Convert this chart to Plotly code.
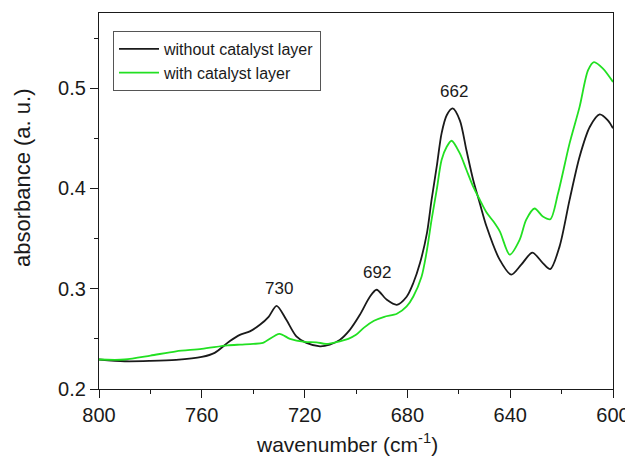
import plotly.graph_objects as go

# black: without catalyst layer
wn_black = [800, 790, 780, 770, 760, 755, 749.2, 745.2, 741.3, 737.4, 734, 730.9, 727.1, 723.2, 719.3,
            714, 710.2, 706.3, 702.4, 698.5, 694.6, 692, 688, 684.1, 680.3, 677.7, 675.1, 672.4, 670.6,
            668.6, 666.7, 664.7, 662.4, 659.6, 657, 654.4, 651.8, 649.2, 644.1, 639.6, 635.7, 631.4,
            627.3, 624.4, 620.8, 616.9, 613, 609, 605.2, 602, 600]
ab_black = [0.2294, 0.2277, 0.228, 0.229, 0.232, 0.236, 0.2476, 0.254, 0.2575, 0.264, 0.272, 0.283,
            0.269, 0.2525, 0.246, 0.2426, 0.2443, 0.249, 0.259, 0.274, 0.292, 0.299, 0.289, 0.284,
            0.292, 0.3057, 0.3256, 0.3554, 0.3886, 0.4217, 0.455, 0.473, 0.4798, 0.468, 0.4378,
            0.4085, 0.385, 0.362, 0.329, 0.314, 0.324, 0.336, 0.3256, 0.3196, 0.342, 0.3886, 0.4317,
            0.4615, 0.4738, 0.468, 0.46]

# green: with catalyst layer
wn_green = [800, 790, 780, 770, 760, 750, 745, 740, 736.2, 729.8, 725.7, 720, 715.4, 711.6, 706.3, 703,
            700, 697, 693, 689, 684.1, 680.3, 677.7, 674.5, 672.6, 670.6, 668.6, 666.7, 664.7, 662.8,
            659.6, 657, 654.4, 651.8, 649.2, 646.5, 644, 640.2, 636.3, 633.8, 630.5, 627.3, 624.4,
            621.4, 616.9, 613, 609.7, 607.4, 603.9, 600]
ab_green = [0.2294, 0.2294, 0.2333, 0.2376, 0.240, 0.2435, 0.2443, 0.245, 0.246, 0.255, 0.250, 0.247,
            0.2466, 0.245, 0.2476, 0.250, 0.254, 0.261, 0.268, 0.272, 0.275, 0.2824, 0.2923, 0.312,
            0.3355, 0.3687, 0.3985, 0.4284, 0.4416, 0.4476, 0.435, 0.4184, 0.4018, 0.3886, 0.376,
            0.367, 0.357, 0.334, 0.349, 0.3687, 0.380, 0.372, 0.3693, 0.395, 0.445, 0.4814, 0.518,
            0.526, 0.5196, 0.5063]

peak_x = [730, 692, 662]
peak_y = [0.283, 0.299, 0.480]
peak_labels = ["730", "692", "662"]

x_title = "wavenumber (cm<sup>-1</sup>)"
y_title = "absorbance (a. u.)"

font = "Liberation Sans, Arial, sans-serif"
ink = "#1a1a1a"

fig = go.Figure()
fig.add_trace(go.Scatter(x=wn_black, y=ab_black, mode="lines", name="without catalyst layer",
                         line=dict(color=ink, width=1.8, shape="spline", smoothing=0.8)))
fig.add_trace(go.Scatter(x=wn_green, y=ab_green, mode="lines", name="with catalyst layer",
                         line=dict(color="#22e022", width=1.8, shape="spline", smoothing=0.8)))

for px, py, lab in zip(peak_x, peak_y, peak_labels):
    fig.add_annotation(x=px, y=py, text=lab, showarrow=False, yshift=17,
                       font=dict(size=17, color=ink, family=font))

# axis titles as annotations for exact placement
fig.add_annotation(x=-77 / 514, xref="paper", y=0.561, yref="paper", text=y_title, textangle=-90,
                   showarrow=False, font=dict(size=22, family=font, color=ink),
                   xanchor="center", yanchor="middle")
fig.add_annotation(x=(347 - 99) / 514, xref="paper", y=-0.105, yref="paper", text=x_title,
                   showarrow=False, font=dict(size=21, family=font, color=ink),
                   xanchor="center", yanchor="top")

# page body has an 8px margin; size the figure so the plot area lands at x 99-613, y 13-389
fig.update_layout(
    width=625, height=456,
    margin=dict(l=91, r=20, t=5, b=75),
    paper_bgcolor="white", plot_bgcolor="white",
    font=dict(family=font, color=ink),
    showlegend=True,
    legend=dict(x=(113 - 99) / 514, y=(389 - 31) / 376, xanchor="left", yanchor="top",
                bgcolor="white", bordercolor="#555", borderwidth=1,
                font=dict(size=16, family=font, color=ink),
                tracegroupgap=0, itemwidth=40),
    xaxis=dict(range=[800, 600], tickvals=[800, 760, 720, 680, 640, 600], automargin=False,
               ticks="outside", ticklen=8, tickwidth=1.3, tickcolor=ink,
               minor=dict(dtick=20, tick0=600, ticks="outside", ticklen=4, tickcolor=ink),
               showline=True, linecolor=ink, linewidth=1.3, mirror=True,
               showgrid=False, zeroline=False,
               tickfont=dict(size=20, family=font, color=ink)),
    yaxis=dict(range=[0.2, 0.575], tickvals=[0.2, 0.3, 0.4, 0.5], automargin=False,
               ticks="outside", ticklen=8, tickwidth=1.3, tickcolor=ink,
               minor=dict(dtick=0.05, tick0=0.2, ticks="outside", ticklen=4, tickcolor=ink),
               showline=True, linecolor=ink, linewidth=1.3, mirror=True,
               showgrid=False, zeroline=False,
               tickfont=dict(size=20, family=font, color=ink)),
)

fig.write_html("out.html")
